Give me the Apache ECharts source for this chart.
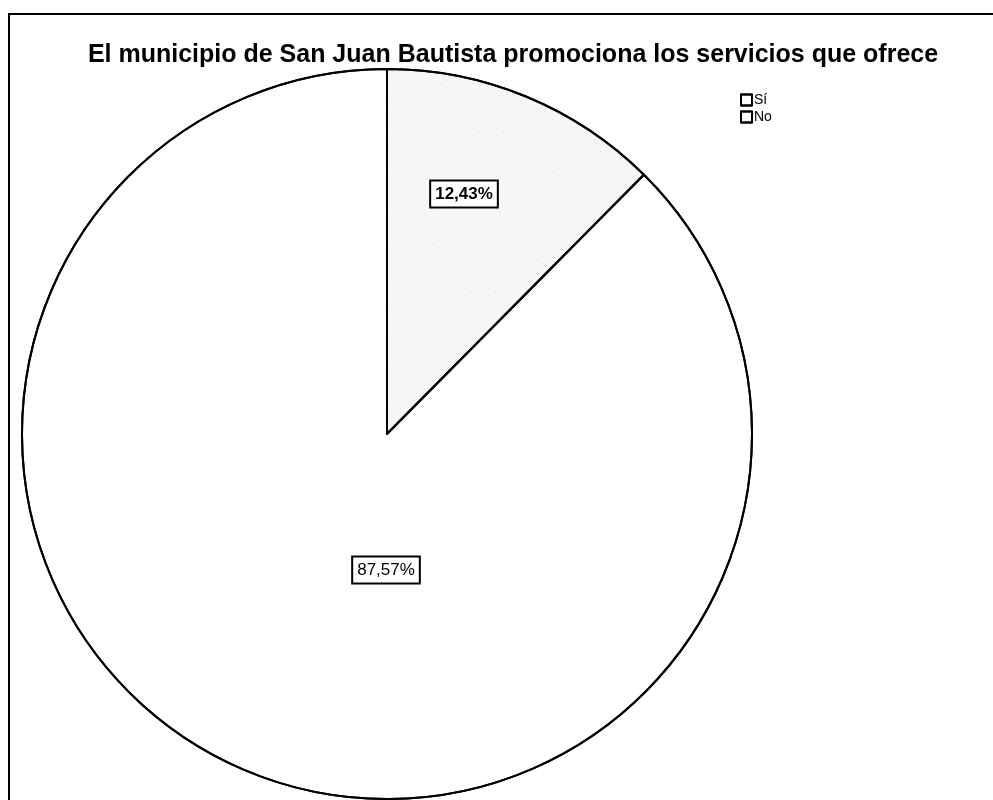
<!DOCTYPE html>
<html>
<head>
<meta charset="utf-8">
<script src="https://cdn.jsdelivr.net/npm/echarts@6/dist/echarts.min.js"></script>
<style>html,body{margin:0;padding:0;background:#fff}#c{width:993px;height:800px}</style>
</head>
<body>
<div id="c"></div>
<script>
const titleText = 'El municipio de San Juan Bautista promociona los servicios que ofrece';
const categories = ['Sí', 'No'];
const values = [12.43, 87.57];
const labelTexts = ['12,43%', '87,57%'];

const chart = echarts.init(document.getElementById('c'), null, {renderer: 'canvas'});
const labelPos = [[464, 194], [386, 570]];
chart.setOption({
  animation: false,
  backgroundColor: '#fff',
  aria: {enabled: true, decal: {show: true}},
  title: {
    text: titleText, left: 508, top: 38, textAlign: 'center',
    textStyle: {fontFamily: 'Liberation Sans, Arial', fontWeight: 'bold', fontSize: 25, color: '#000'}
  },
  legend: {
    data: categories.map(n => ({name: n, itemStyle: {color: '#fff', borderColor: '#000', borderWidth: 2, decal: {symbol: 'none'}}})),
    orient: 'vertical', left: 735, top: 88, itemWidth: 11, itemHeight: 11, itemGap: 3,
    icon: 'rect', selectedMode: false,
    textStyle: {fontFamily: 'Liberation Sans, Arial', fontSize: 14, color: '#000', padding: [0, 0, 0, -3]}
  },
  graphic: [{
    type: 'rect', shape: {x: 9, y: 14, width: 1000, height: 800},
    style: {fill: 'none', stroke: '#000', lineWidth: 2}, silent: true
  }],
  series: [{
    type: 'pie', center: [387, 434], radius: 365, startAngle: 90, clockwise: true,
    avoidLabelOverlap: false,
    itemStyle: {borderColor: '#000', borderWidth: 2},
    label: {
      show: true, position: 'inside',
      formatter: p => labelTexts[p.dataIndex],
      fontFamily: 'Liberation Sans, Arial', fontSize: 17, color: '#000',
      backgroundColor: '#fff', borderColor: '#000', borderWidth: 2, padding: [5, 4, 3, 4]
    },
    labelLayout: p => ({x: labelPos[p.dataIndex][0], y: labelPos[p.dataIndex][1], align: 'center', verticalAlign: 'middle'}),
    labelLine: {show: false},
    emphasis: {disabled: true},
    data: categories.map((n, i) => ({
      name: n, value: values[i],
      label: i === 0 ? {fontWeight: 'bold'} : {},
      itemStyle: i === 0 ? {
        color: '#f6f6f6',
        decal: {symbol: 'rect', symbolSize: 0.35, color: '#8c8c8c', dashArrayX: [[1, 6], [1, 9]], dashArrayY: [1, 5], rotation: 0.5}
      } : {color: '#fff', decal: {symbol: 'none'}}
    }))
  }]
});
</script>
</body>
</html>
